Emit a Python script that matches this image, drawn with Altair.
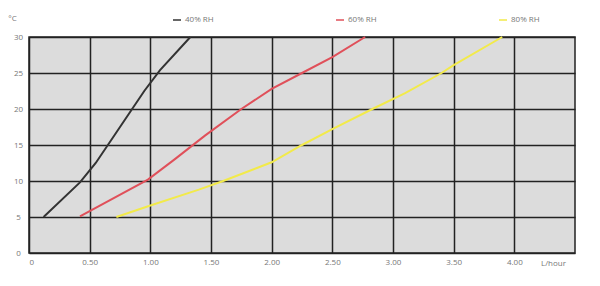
import altair as alt
import pandas as pd

# 40% RH
rh40_x = [0.12, 0.42, 0.55, 0.75, 0.95, 1.08, 1.33]
rh40_y = [5, 9.8, 12.5, 17.5, 22.5, 25.4, 30]
# 60% RH
rh60_x = [0.42, 0.98, 1.20, 1.45, 1.75, 2.00, 2.25, 2.50, 2.77]
rh60_y = [5.1, 10.2, 13.0, 16.3, 20.0, 22.8, 25.0, 27.2, 30]
# 80% RH
rh80_x = [0.72, 1.00, 1.40, 1.60, 2.00, 2.25, 2.50, 2.83, 3.10, 3.40, 3.50, 3.90]
rh80_y = [5, 6.6, 8.8, 10.0, 12.6, 15.0, 17.2, 20.0, 22.2, 25.0, 26.1, 30]

series_names = ["40% RH", "60% RH", "80% RH"]
series_colors = ["#333333", "#e0505a", "#f2ea4a"]
x_ticks = [0, 0.5, 1.0, 1.5, 2.0, 2.5, 3.0, 3.5, 4.0]
y_ticks = [0, 5, 10, 15, 20, 25, 30]

rows = []
for name, xs, ys in zip(series_names, [rh40_x, rh60_x, rh80_x], [rh40_y, rh60_y, rh80_y]):
    for i, (a, b) in enumerate(zip(xs, ys)):
        rows.append({"series": name, "rate": a, "temp": b, "order": i})
df = pd.DataFrame(rows)

FONT = "Open Sans"

chart = alt.Chart(df).mark_line(strokeWidth=2).encode(
    x=alt.X("rate:Q",
            scale=alt.Scale(domain=[0, 4.5], nice=False, zero=False),
            axis=alt.Axis(values=x_ticks, title="L/hour", titleAngle=0,
                          titleX=524, titleY=10, titleAlign="center",
                          titleBaseline="middle", titleFontWeight="normal",
                          titleFontSize=8, titleColor="#777777", titleFont=FONT,
                          labelExpr="datum.value == 0 ? '0' : format(datum.value, '.2f')",
                          labelFontSize=8, labelColor="#777777", labelFont=FONT,
                          labelPadding=5, ticks=False, domain=False,
                          grid=True, gridColor="#222222", gridWidth=1.5, gridOpacity=1)),
    y=alt.Y("temp:Q",
            scale=alt.Scale(domain=[0, 30], nice=False),
            axis=alt.Axis(values=y_ticks, title="°C", titleAngle=0,
                          titleX=-17, titleY=-19, titleAlign="center",
                          titleBaseline="middle", titleFontWeight="normal",
                          titleFontSize=8, titleColor="#777777", titleFont=FONT,
                          labelFontSize=8, labelColor="#777777", labelFont=FONT,
                          labelAlign="center", labelPadding=11, labelBaseline="middle",
                          ticks=False, domain=False,
                          grid=True, gridColor="#222222", gridWidth=1.5, gridOpacity=1)),
    color=alt.Color("series:N",
                    scale=alt.Scale(domain=series_names, range=series_colors),
                    legend=alt.Legend(title=None, orient="none", legendX=143, legendY=-22,
                                      direction="horizontal", symbolType="stroke",
                                      symbolSize=64, symbolStrokeWidth=1.5,
                                      labelFontSize=8, labelColor="#777777", labelFont=FONT,
                                      labelOffset=3, columnPadding=119)),
    order="order:Q",
).properties(
    width=546, height=216,
    padding={"left": 29, "top": 37, "right": 25, "bottom": 33},
    autosize=alt.AutoSizeParams(type="none"),
    background="white",
).configure_view(fill="#dcdcdc", stroke="#222222", strokeWidth=1.5)

chart.save("out.html", embed_options={"renderer": "svg", "actions": False})
